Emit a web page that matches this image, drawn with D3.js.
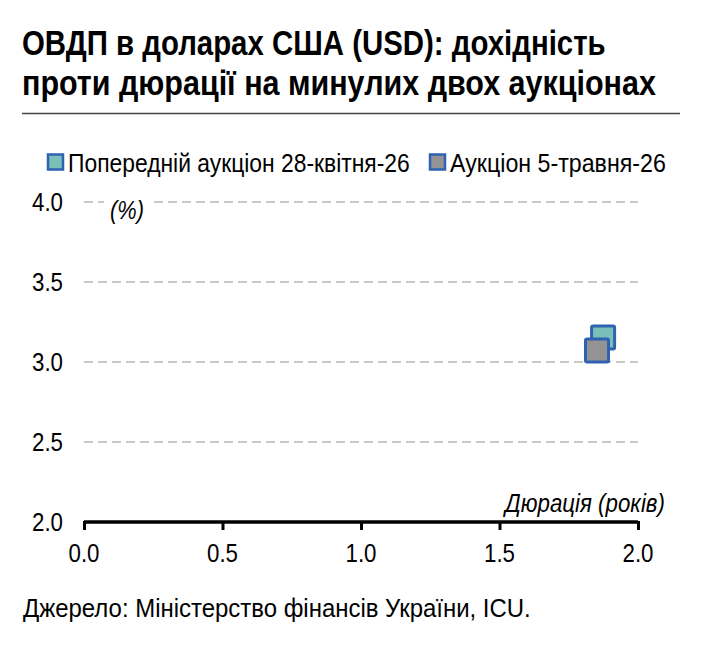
<!DOCTYPE html>
<html>
<head>
<meta charset="utf-8">
<script src="https://cdn.jsdelivr.net/npm/d3@7"></script>
<style>
  body { margin: 0; background: #fff; }
  svg { display: block; font-family: "Liberation Sans", Arial, sans-serif; }
</style>
</head>
<body>
<div id="chart"></div>
<script>
// Дані
const seriesNames = ['Попередній аукціон 28-квітня-26', 'Аукціон 5-травня-26'];
const seriesColors = ['#7bbfb9', '#939393'];
const durations = [1.874, 1.852];
const yields = [3.153, 3.072];
const xTicks = [0.0, 0.5, 1.0, 1.5, 2.0];
const yTicks = [2.0, 2.5, 3.0, 3.5, 4.0];

const W = 704, H = 649;
const svg = d3.select('#chart').append('svg')
    .attr('width', W)
    .attr('height', H);

// вузький шрифт: стискаємо текст по горизонталі до ширини з оригіналу
// (розмір шрифту задається на батьківській групі, щоб вимір був правильний)
function narrowText(parent, x, y, len, anchor, txt) {
    const t = parent.append('text').attr('x', 0).attr('y', 0).text(txt);
    const w = t.node().getComputedTextLength();
    const k = len / w;
    const x0 = anchor === 'end' ? x - len : (anchor === 'middle' ? x - len / 2 : x);
    t.attr('transform', `translate(${x0},${y}) scale(${k},1)`);
    return t;
}

// Заголовок
const titleLines = ['ОВДП в доларах США (USD): дохідність', 'проти дюрації на минулих двох аукціонах'];
const titleLen = [584, 634];
const titleG = svg.append('g').attr('font-size', 36).attr('font-weight', 'bold');
titleLines.forEach((s, i) => narrowText(titleG, 22, 55 + i * 40, titleLen[i], 'start', s));

svg.append('line')
    .attr('x1', 22).attr('x2', 680)
    .attr('y1', 113.5).attr('y2', 113.5)
    .attr('stroke', '#444')
    .attr('stroke-width', 1.5);

// Шкали
const x = d3.scaleLinear().domain([0, 2]).range([84, 638]);
const y = d3.scaleLinear().domain([2, 4]).range([522, 202]);

// Сітка
svg.append('g')
    .selectAll('line')
    .data(yTicks.filter(d => d > 2))
    .enter()
    .append('line')
    .attr('x1', 84)
    .attr('x2', 638)
    .attr('y1', d => y(d))
    .attr('y2', d => y(d))
    .attr('stroke', '#c8c8c8')
    .attr('stroke-width', 2)
    .attr('stroke-dasharray', '9,5');

// Підписи осі Y
const yLab = svg.append('g').attr('font-size', 25);
yTicks.forEach(d => narrowText(yLab, 63, y(d) + 9, 31, 'end', d.toFixed(1)));

// Вісь X
const xAxis = svg.append('g')
    .attr('transform', `translate(0,${y(2)})`)
    .call(d3.axisBottom(x).tickValues(xTicks).tickSize(8).tickFormat(''));
xAxis.select('.domain')
    .attr('d', `M${x(0)},0H${x(2)}`)
    .attr('stroke', '#000')
    .attr('stroke-width', 3.5);
xAxis.selectAll('.tick line').attr('stroke', '#000').attr('stroke-width', 3).attr('y1', -1);
const xLab = svg.append('g').attr('font-size', 25);
xTicks.forEach(d => narrowText(xLab, x(d), y(2) + 40, 31, 'middle', d.toFixed(1)));

// Підписи осей
svg.append('rect')
    .attr('x', 104).attr('y', 195)
    .attr('width', 46).attr('height', 14)
    .attr('fill', '#fff');
const axTitles = svg.append('g').attr('font-style', 'italic');
narrowText(axTitles.append('g').attr('font-size', 25), 110, 219, 34, 'start', '(%)');
narrowText(axTitles.append('g').attr('font-size', 26), 665, 512, 160, 'end', 'Дюрація (років)');

// Точки
const pts = seriesNames.map((n, i) => ({name: n, x: durations[i], y: yields[i], color: seriesColors[i]}));
svg.append('g')
    .selectAll('rect')
    .data(pts)
    .enter()
    .append('rect')
    .attr('x', d => x(d.x) - 11.5)
    .attr('y', d => y(d.y) - 11.5)
    .attr('width', 23)
    .attr('height', 23)
    .attr('rx', 1.5)
    .attr('fill', d => d.color)
    .attr('stroke', '#2f62b0')
    .attr('stroke-width', 3);

// Легенда
const legendX = [48, 430];
const legendLen = [342, 216];
const legend = svg.append('g').attr('font-size', 26);
pts.forEach((d, i) => {
    legend.append('rect')
        .attr('x', legendX[i])
        .attr('y', 154.5)
        .attr('width', 15)
        .attr('height', 15)
        .attr('fill', d.color)
        .attr('stroke', '#2f62b0')
        .attr('stroke-width', 2.5);
    narrowText(legend, legendX[i] + 20, 172, legendLen[i], 'start', d.name);
});

// Джерело
narrowText(svg.append('g').attr('font-size', 25), 23, 617, 508, 'start',
    'Джерело: Міністерство фінансів України, ICU.');
</script>
</body>
</html>
